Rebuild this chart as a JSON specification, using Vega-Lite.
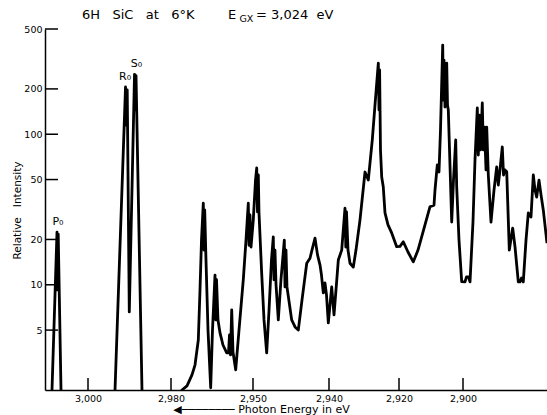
{
  "$schema": "https://vega.github.io/schema/vega-lite/v6.json",
  "width": 502,
  "height": 361,
  "autosize": {"type": "none"},
  "padding": {"left": 45, "top": 29, "right": 0, "bottom": 25},
  "background": "white",
  "config": {"view": {"stroke": null}, "font": "DejaVu Sans"},
  "resolve": {"axis": {"x": "independent", "y": "independent"}},
  "datasets": {
    "spectrum": [
      {"energy": 3.00864, "intensity": 2.0},
      {"energy": 3.00744, "intensity": 22.4},
      {"energy": 3.0073, "intensity": 9.24},
      {"energy": 3.00715, "intensity": 21.7},
      {"energy": 3.00648, "intensity": 2.0},
      {"energy": 3.00624, "intensity": 1},
      {"energy": 2.99373, "intensity": 1},
      {"energy": 2.99349, "intensity": 2.0},
      {"energy": 2.99096, "intensity": 206},
      {"energy": 2.99072, "intensity": 115},
      {"energy": 2.99055, "intensity": 197},
      {"energy": 2.99005, "intensity": 6.6},
      {"energy": 2.98879, "intensity": 250},
      {"energy": 2.9886, "intensity": 145},
      {"energy": 2.98843, "intensity": 245},
      {"energy": 2.98699, "intensity": 2.0},
      {"energy": 2.98675, "intensity": 1},
      {"energy": 2.97634, "intensity": 1},
      {"energy": 2.97598, "intensity": 2.0},
      {"energy": 2.97415, "intensity": 2.13},
      {"energy": 2.97232, "intensity": 2.52},
      {"energy": 2.97122, "intensity": 2.93},
      {"energy": 2.97001, "intensity": 4.3},
      {"energy": 2.96939, "intensity": 9.24},
      {"energy": 2.96884, "intensity": 19.8},
      {"energy": 2.96818, "intensity": 34.9},
      {"energy": 2.96793, "intensity": 17.0},
      {"energy": 2.96767, "intensity": 31.4},
      {"energy": 2.9672, "intensity": 14.6},
      {"energy": 2.96646, "intensity": 5.0},
      {"energy": 2.96548, "intensity": 2.07},
      {"energy": 2.96482, "intensity": 5.0},
      {"energy": 2.9639, "intensity": 11.6},
      {"energy": 2.96361, "intensity": 5.84},
      {"energy": 2.96335, "intensity": 10.8},
      {"energy": 2.96281, "intensity": 5.84},
      {"energy": 2.96207, "intensity": 4.79},
      {"energy": 2.96098, "intensity": 3.98},
      {"energy": 2.95962, "intensity": 3.53},
      {"energy": 2.95896, "intensity": 3.53},
      {"energy": 2.9586, "intensity": 4.64},
      {"energy": 2.95823, "intensity": 3.42},
      {"energy": 2.95779, "intensity": 6.8},
      {"energy": 2.95732, "intensity": 3.58},
      {"energy": 2.95633, "intensity": 2.72},
      {"energy": 2.95512, "intensity": 5.0},
      {"energy": 2.95355, "intensity": 10.8},
      {"energy": 2.95256, "intensity": 19.8},
      {"energy": 2.95172, "intensity": 34.9},
      {"energy": 2.95146, "intensity": 18.3},
      {"energy": 2.9511, "intensity": 29.1},
      {"energy": 2.95073, "intensity": 17.8},
      {"energy": 2.94996, "intensity": 27.0},
      {"energy": 2.94967, "intensity": 49.6},
      {"energy": 2.94951, "intensity": 59.7},
      {"energy": 2.94941, "intensity": 30.5},
      {"energy": 2.9493, "intensity": 53.6},
      {"energy": 2.94921, "intensity": 30.0},
      {"energy": 2.94886, "intensity": 12.0},
      {"energy": 2.94855, "intensity": 5.84},
      {"energy": 2.9482, "intensity": 3.53},
      {"energy": 2.94789, "intensity": 6.8},
      {"energy": 2.94757, "intensity": 14.6},
      {"energy": 2.94733, "intensity": 20.8},
      {"energy": 2.94724, "intensity": 10.8},
      {"energy": 2.94711, "intensity": 17.0},
      {"energy": 2.94697, "intensity": 10.0},
      {"energy": 2.94667, "intensity": 5.84},
      {"energy": 2.94632, "intensity": 10.8},
      {"energy": 2.94588, "intensity": 19.8},
      {"energy": 2.94579, "intensity": 9.68},
      {"energy": 2.94566, "intensity": 17.0},
      {"energy": 2.94553, "intensity": 9.68},
      {"energy": 2.94491, "intensity": 5.84},
      {"energy": 2.94447, "intensity": 5.25},
      {"energy": 2.94404, "intensity": 5.0},
      {"energy": 2.94355, "intensity": 7.94},
      {"energy": 2.94293, "intensity": 13.9},
      {"energy": 2.9425, "intensity": 15.0},
      {"energy": 2.94224, "intensity": 17.0},
      {"energy": 2.94184, "intensity": 20.4},
      {"energy": 2.94151, "intensity": 15.8},
      {"energy": 2.94118, "intensity": 13.5},
      {"energy": 2.94099, "intensity": 11.6},
      {"energy": 2.94075, "intensity": 8.83},
      {"energy": 2.94053, "intensity": 10.3},
      {"energy": 2.94033, "intensity": 8.56},
      {"energy": 2.94009, "intensity": 5.58},
      {"energy": 2.93923, "intensity": 9.68},
      {"energy": 2.93857, "intensity": 6.31},
      {"energy": 2.938, "intensity": 9.24},
      {"energy": 2.93734, "intensity": 14.6},
      {"energy": 2.93637, "intensity": 17.0},
      {"energy": 2.93543, "intensity": 32.3},
      {"energy": 2.9352, "intensity": 17.8},
      {"energy": 2.935, "intensity": 30.5},
      {"energy": 2.93457, "intensity": 17.0},
      {"energy": 2.934, "intensity": 13.9},
      {"energy": 2.93306, "intensity": 13.1},
      {"energy": 2.93229, "intensity": 17.0},
      {"energy": 2.93114, "intensity": 27.0},
      {"energy": 2.92971, "intensity": 56.1},
      {"energy": 2.92877, "intensity": 49.6},
      {"energy": 2.92763, "intensity": 91.6},
      {"energy": 2.92686, "intensity": 156},
      {"energy": 2.92591, "intensity": 297},
      {"energy": 2.92571, "intensity": 145},
      {"energy": 2.92554, "intensity": 267},
      {"energy": 2.92529, "intensity": 78.6},
      {"energy": 2.92494, "intensity": 52.0},
      {"energy": 2.92449, "intensity": 44.6},
      {"energy": 2.924, "intensity": 30.0},
      {"energy": 2.92314, "intensity": 25.0},
      {"energy": 2.92209, "intensity": 22.1},
      {"energy": 2.92066, "intensity": 17.9},
      {"energy": 2.91969, "intensity": 18.0},
      {"energy": 2.91866, "intensity": 19.3},
      {"energy": 2.91719, "intensity": 16.5},
      {"energy": 2.91553, "intensity": 14.2},
      {"energy": 2.91406, "intensity": 17.0},
      {"energy": 2.91188, "intensity": 25.0},
      {"energy": 2.91031, "intensity": 33.0},
      {"energy": 2.90906, "intensity": 33.8},
      {"energy": 2.90875, "intensity": 42.6},
      {"energy": 2.90803, "intensity": 62.5},
      {"energy": 2.9075, "intensity": 56.1},
      {"energy": 2.90703, "intensity": 106.6},
      {"energy": 2.90634, "intensity": 391},
      {"energy": 2.90613, "intensity": 168.7},
      {"energy": 2.90594, "intensity": 311},
      {"energy": 2.90563, "intensity": 151.6},
      {"energy": 2.90509, "intensity": 297},
      {"energy": 2.90484, "intensity": 156},
      {"energy": 2.90459, "intensity": 145},
      {"energy": 2.90353, "intensity": 26.1},
      {"energy": 2.90297, "intensity": 49.6},
      {"energy": 2.90228, "intensity": 91.6},
      {"energy": 2.90197, "intensity": 44.6},
      {"energy": 2.90125, "intensity": 19.8},
      {"energy": 2.90041, "intensity": 10.5},
      {"energy": 2.89938, "intensity": 10.45},
      {"energy": 2.89891, "intensity": 11.3},
      {"energy": 2.89828, "intensity": 11.3},
      {"energy": 2.89781, "intensity": 10.45},
      {"energy": 2.89688, "intensity": 26.1},
      {"energy": 2.89625, "intensity": 67.4},
      {"energy": 2.89553, "intensity": 149.3},
      {"energy": 2.89522, "intensity": 72.8},
      {"energy": 2.89484, "intensity": 134.1},
      {"energy": 2.89453, "intensity": 78.6},
      {"energy": 2.89397, "intensity": 161.2},
      {"energy": 2.89366, "intensity": 78.6},
      {"energy": 2.89328, "intensity": 111.6},
      {"energy": 2.89281, "intensity": 57.9},
      {"energy": 2.89259, "intensity": 111.6},
      {"energy": 2.89209, "intensity": 53.6},
      {"energy": 2.89125, "intensity": 26.1},
      {"energy": 2.89031, "intensity": 42.6},
      {"energy": 2.88947, "intensity": 60.6},
      {"energy": 2.88897, "intensity": 46.0},
      {"energy": 2.88844, "intensity": 57.9},
      {"energy": 2.88772, "intensity": 82.3},
      {"energy": 2.88734, "intensity": 53.6},
      {"energy": 2.88688, "intensity": 57.9},
      {"energy": 2.88634, "intensity": 56.4},
      {"energy": 2.88553, "intensity": 17.0},
      {"energy": 2.88447, "intensity": 23.8},
      {"energy": 2.88375, "intensity": 17.9},
      {"energy": 2.88272, "intensity": 10.45},
      {"energy": 2.88219, "intensity": 10.45},
      {"energy": 2.88172, "intensity": 11.1},
      {"energy": 2.88116, "intensity": 10.45},
      {"energy": 2.88031, "intensity": 19.8},
      {"energy": 2.87959, "intensity": 30.0},
      {"energy": 2.87875, "intensity": 28.2},
      {"energy": 2.87803, "intensity": 53.6},
      {"energy": 2.8775, "intensity": 42.6},
      {"energy": 2.87697, "intensity": 38.2},
      {"energy": 2.87625, "intensity": 49.6},
      {"energy": 2.87563, "intensity": 39.7},
      {"energy": 2.87491, "intensity": 31.4},
      {"energy": 2.87375, "intensity": 18.9}
    ],
    "xticks": [
      {"energy": 3.0}, {"energy": 2.98}, {"energy": 2.95},
      {"energy": 2.94}, {"energy": 2.92}, {"energy": 2.9}
    ],
    "yticks": [
      {"intensity": 5}, {"intensity": 10}, {"intensity": 20},
      {"intensity": 50}, {"intensity": 100}, {"intensity": 200}, {"intensity": 500}
    ],
    "peaks": [
      {"label": "P₀", "energy": 3.0072, "intensity": 25.1},
      {"label": "R₀", "energy": 2.99108, "intensity": 229},
      {"label": "S₀", "energy": 2.98831, "intensity": 280}
    ],
    "header": [
      {"label": "6H\u00a0\u00a0\u00a0SiC\u00a0\u00a0\u00a0at\u00a0\u00a0\u00a06°K", "energy": 3.00144, "intensity": 583},
      {"label": "E", "energy": 2.95915, "intensity": 583},
      {"label": "=\u00a03,024\u00a0\u00a0eV", "energy": 2.94961, "intensity": 583}
    ],
    "subscript": [
      {"label": "GX", "energy": 2.95494, "intensity": 556}
    ]
  },
  "layer": [
    {
      "data": {"name": "spectrum"},
      "mark": {"type": "line", "color": "black", "strokeWidth": 2.8, "strokeJoin": "round", "clip": true},
      "encoding": {
        "x": {
          "field": "energy",
          "type": "quantitative",
          "scale": {
            "type": "linear",
            "domain": [3.01032, 3.0, 2.98, 2.95, 2.94, 2.92, 2.9, 2.87375],
            "range": [0, 43, 126, 208, 284, 354, 418, 502],
            "nice": false,
            "zero": false
          },
          "axis": {
            "values": [3.0, 2.98, 2.95, 2.94, 2.92, 2.9],
            "labelExpr": "replace(format(datum.value, '.3f'), '.', ',')",
            "title": "◀──────── Photon Energy in eV",
            "grid": false,
            "ticks": false,
            "domainColor": "black",
            "domainWidth": 1.5,
            "labelPadding": 3,
            "labelFontSize": 9.5,
            "labelColor": "black",
            "labelFlush": false,
            "labelOverlap": false,
            "titleFontSize": 11,
            "titleFontWeight": "normal",
            "titleColor": "black",
            "titleX": 216,
            "titleY": 22,
            "titleAlign": "center",
            "titleBaseline": "alphabetic"
          }
        },
        "y": {
          "field": "intensity",
          "type": "quantitative",
          "scale": {"type": "log", "domain": [2, 500], "nice": false},
          "axis": {
            "values": [5, 10, 20, 50, 100, 200, 500],
            "format": "d",
            "title": "Relative\u00a0\u00a0\u00a0Intensity",
            "grid": false,
            "ticks": false,
            "domainColor": "black",
            "domainWidth": 1.5,
            "labelPadding": 3,
            "labelFontSize": 9.5,
            "labelColor": "black",
            "labelFlush": false,
            "labelOverlap": false,
            "titleFontSize": 10.5,
            "titleFontWeight": "normal",
            "titleColor": "black",
            "titleAngle": -90,
            "titleX": -28,
            "titleY": 181,
            "titleAlign": "center",
            "titleBaseline": "middle"
          }
        }
      }
    },
    {
      "data": {"name": "xticks"},
      "mark": {"type": "rule", "color": "black", "strokeWidth": 1.5},
      "encoding": {
        "x": {"field": "energy", "type": "quantitative", "axis": null},
        "y": {"datum": 2, "type": "quantitative", "axis": null},
        "y2": {"datum": 2.404}
      }
    },
    {
      "data": {"name": "yticks"},
      "mark": {"type": "rule", "color": "black", "strokeWidth": 1.5},
      "encoding": {
        "y": {"field": "intensity", "type": "quantitative", "axis": null},
        "x": {"datum": 3.01032, "type": "quantitative", "axis": null},
        "x2": {"datum": 3.0072}
      }
    },
    {
      "data": {"name": "peaks"},
      "mark": {"type": "text", "color": "black", "fontSize": 11, "align": "center", "baseline": "alphabetic"},
      "encoding": {
        "x": {"field": "energy", "type": "quantitative", "axis": null},
        "y": {"field": "intensity", "type": "quantitative", "axis": null},
        "text": {"field": "label"}
      }
    },
    {
      "data": {"name": "header"},
      "mark": {"type": "text", "color": "black", "fontSize": 13, "align": "left", "baseline": "alphabetic"},
      "encoding": {
        "x": {"field": "energy", "type": "quantitative", "axis": null},
        "y": {"field": "intensity", "type": "quantitative", "axis": null},
        "text": {"field": "label"}
      }
    },
    {
      "data": {"name": "subscript"},
      "mark": {"type": "text", "color": "black", "fontSize": 9.5, "align": "left", "baseline": "alphabetic"},
      "encoding": {
        "x": {"field": "energy", "type": "quantitative", "axis": null},
        "y": {"field": "intensity", "type": "quantitative", "axis": null},
        "text": {"field": "label"}
      }
    }
  ]
}
